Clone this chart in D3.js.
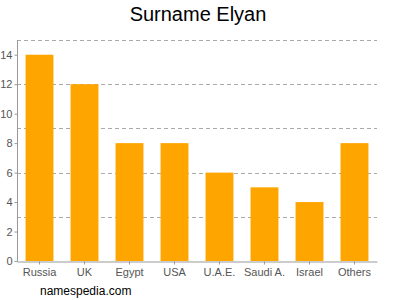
<!DOCTYPE html>
<html>
<head>
<meta charset="utf-8">
<script src="https://cdn.jsdelivr.net/npm/d3@7"></script>
<style>
  body { margin: 0; background: #fff; }
  text { font-family: "Liberation Sans", Arial, sans-serif; }
</style>
</head>
<body>
<div id="chart" style="width:400px;height:300px"></div>
<script>
const countries = ["Russia", "UK", "Egypt", "USA", "U.A.E.", "Saudi A.", "Israel", "Others"];
const counts = [14, 12, 8, 8, 6, 5, 4, 8];
const yTicks = [0, 2, 4, 6, 8, 10, 12, 14];
const gridLines = [3, 6, 9, 12, 15];

const drawBarChart = function (selector) {
    const node = document.querySelector(selector);
    const width = 400, height = 300;
    const margin = {top: 40, right: 23, bottom: 39, left: 17};

    const svg = d3.select(node).append("svg")
        .attr("width", width)
        .attr("height", height);

    const x = d3.scaleBand()
        .domain(countries)
        .range([margin.left, width - margin.right])
        .paddingInner(0.38)
        .paddingOuter(0.19);

    const y = d3.scaleLinear()
        .domain([0, 15])
        .range([height - margin.bottom, margin.top]);

    // dashed grid
    svg.selectAll(".grid")
        .data(gridLines)
        .enter()
        .append("line")
        .attr("class", "grid")
        .attr("x1", margin.left)
        .attr("x2", width - margin.right)
        .attr("y1", d => Math.round(y(d)) + 0.5)
        .attr("y2", d => Math.round(y(d)) + 0.5)
        .attr("stroke", "#aaa")
        .attr("stroke-dasharray", "4,3");

    svg.selectAll(".bar")
        .data(countries)
        .enter()
        .append("rect")
        .attr("class", "bar")
        .attr("x", d => x(d))
        .attr("width", x.bandwidth())
        .attr("y", (d, i) => y(counts[i]))
        .attr("height", (d, i) => y(0) - y(counts[i]))
        .attr("fill", "#ffa500");

    const yAxis = d3.axisLeft(y)
        .tickValues(yTicks)
        .tickSize(3)
        .tickPadding(2);

    const gy = svg.append("g")
        .attr("transform", "translate(" + (margin.left + 0.5) + ",0)")
        .call(yAxis);

    const xAxis = d3.axisBottom(x)
        .tickSize(3)
        .tickSizeOuter(0)
        .tickPadding(4);

    const gx = svg.append("g")
        .attr("transform", "translate(0," + (Math.round(y(0)) + 0.5) + ")")
        .call(xAxis);

    [gx, gy].forEach(g => {
        g.selectAll(".domain").attr("stroke", "#999");
        g.selectAll(".tick line").attr("stroke", "#999");
        g.selectAll(".tick text")
            .attr("fill", "#555")
            .style("font-size", "11px")
            .style("font-family", "Liberation Sans, Arial, sans-serif");
    });
    gy.select(".domain").attr("d", "M0," + margin.top + "V" + (Math.round(y(0)) + 0.5));

    svg.append("text")
        .attr("x", 198)
        .attr("y", 21)
        .attr("text-anchor", "middle")
        .style("font-size", "20px")
        .attr("fill", "#000")
        .text("Surname Elyan");

    svg.append("text")
        .attr("x", 40)
        .attr("y", 295)
        .style("font-size", "12px")
        .attr("fill", "#000")
        .text("namespedia.com");
};

drawBarChart("#chart");
</script>
</body>
</html>
